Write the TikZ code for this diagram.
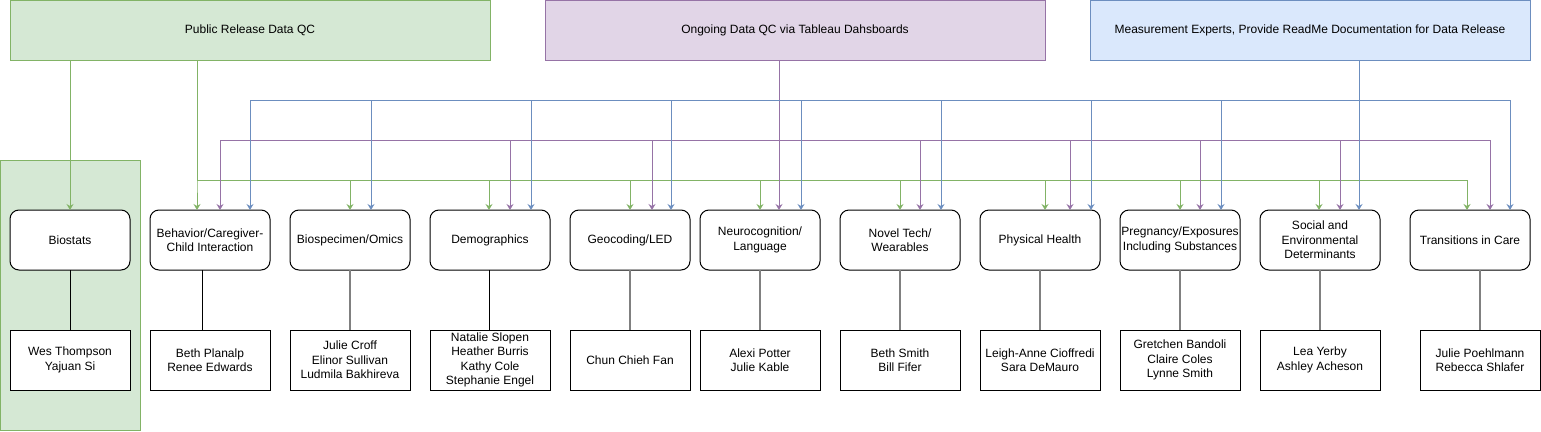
\documentclass[tikz,border=0pt]{standalone}
\usepackage{fontspec}
\setmainfont{Liberation Sans}
\usetikzlibrary{arrows.meta}
\definecolor{gfill}{HTML}{D5E8D4}
\definecolor{gline}{HTML}{82B366}
\definecolor{pfill}{HTML}{E1D5E7}
\definecolor{pline}{HTML}{9673A6}
\definecolor{bfill}{HTML}{DAE8FC}
\definecolor{bline}{HTML}{6C8EBF}
\definecolor{cgray}{HTML}{808080}
\tikzset{
  txt/.style={font=\fontsize{12}{14.4}\selectfont, align=center, inner sep=0pt, outer sep=0pt},
  topbox/.style={txt, draw, line width=1pt, minimum height=60pt},
  midbox/.style={txt, draw=black, fill=white, line width=1pt, rounded corners=9pt, minimum width=120pt, minimum height=60pt},
  lowbox/.style={txt, draw=black, fill=white, line width=1pt, minimum width=120pt, minimum height=60pt},
  tip/.style={-{Stealth[length=6pt,width=7pt,inset=2pt]}},
  gedge/.style={draw=gline, line width=1pt, tip},
  pedge/.style={draw=pline, line width=1pt, tip},
  bedge/.style={draw=bline, line width=1pt, tip},
  blink/.style={draw=black, line width=1pt},
  glink/.style={draw=cgray, line width=2pt},
}
\begin{document}
\begin{tikzpicture}[x=1pt,y=-1pt]
\useasboundingbox (0,0) rectangle (1541,431);
% background for biostats
\node[draw=gline, fill=gfill, line width=1pt, minimum width=140pt, minimum height=270pt, inner sep=0pt, outer sep=0pt] (bg) at (70,295) {};
% top boxes
\node[topbox, fill=gfill, draw=gline, minimum width=480pt] (pub) at (250,30) {Public Release Data QC};
\node[topbox, fill=pfill, draw=pline, minimum width=500pt] (ong) at (795,30) {Ongoing Data QC via Tableau Dahsboards};
\node[topbox, fill=bfill, draw=bline, minimum width=440pt] (mea) at (1310,30) {Measurement Experts, Provide ReadMe Documentation for Data Release};
% middle boxes
\node[midbox] (bios) at (70,240) {Biostats};
\node[midbox] (beh) at (210,240) {Behavior/Caregiver-\\Child Interaction};
\node[midbox] (bsp) at (350,240) {Biospecimen/Omics};
\node[midbox] (dem) at (490,240) {Demographics};
\node[midbox] (geo) at (630,240) {Geocoding/LED};
\node[midbox] (neu) at (760,240) {Neurocognition/\\Language};
\node[midbox] (nov) at (900,240) {Novel Tech/\\Wearables};
\node[midbox] (phy) at (1040,240) {Physical Health};
\node[midbox] (pre) at (1180,240) {Pregnancy/Exposures\\Including Substances};
\node[midbox] (soc) at (1320,240) {Social and\\Environmental\\Determinants};
\node[midbox] (tra) at (1470,240) {Transitions in Care};
% lower boxes
\node[lowbox] (l1) at (70,360) {Wes Thompson\\Yajuan Si};
\node[lowbox] (l2) at (210,360) {Beth Planalp\\Renee Edwards};
\node[lowbox] (l3) at (350,360) {Julie Croff\\Elinor Sullivan\\Ludmila Bakhireva};
\node[lowbox] (l4) at (490,360) {Natalie Slopen\\Heather Burris\\Kathy Cole\\Stephanie Engel};
\node[lowbox] (l5) at (630,360) {Chun Chieh Fan};
\node[lowbox] (l6) at (760,360) {Alexi Potter\\Julie Kable};
\node[lowbox] (l7) at (900,360) {Beth Smith\\Bill Fifer};
\node[lowbox] (l8) at (1040,360) {Leigh-Anne Cioffredi\\Sara DeMauro};
\node[lowbox] (l9) at (1180,360) {Gretchen Bandoli\\Claire Coles\\Lynne Smith};
\node[lowbox] (l10) at (1320,360) {Lea Yerby\\Ashley Acheson};
\node[lowbox] (l11) at (1480,360) {Julie Poehlmann\\Rebecca Shlafer};
% links middle -> lower
\draw[blink] (bios.south) -- (l1.north);
\draw[blink] (beh.south -| 202,0) -- (l2.north -| 202,0);
\draw[glink] (bsp.south) -- (l3.north);
\draw[blink] (dem.south -| 489,0) -- (l4.north -| 489,0);
\foreach \a/\b in {geo/l5,neu/l6,nov/l7,phy/l8,pre/l9,soc/l10}
  \draw[glink] (\a.south) -- (\b.north);
\draw[glink] (tra.south -| l11.north) -- (l11.north);
% green edges
\draw[gedge] (pub.south -| 70,0) -- (bios.north);
\foreach \x/\n in {197/beh,350/bsp,489/dem,630/geo,760/neu,900/nov,1045/phy,1180/pre,1319/soc,1467/tra}
  \draw[gedge] (pub.south -| 197,0) |- (\x,180) -- (\n.north -| \x,0);
% purple edges
\draw[pedge] (ong.south -| 779,0) -- (neu.north -| 779,0);
\foreach \x/\n in {220/beh,510/dem,652/geo,920/nov,1070/phy,1200/pre,1340/soc,1490/tra}
  \draw[pedge] (ong.south -| 779,0) |- (\x,140) -- (\n.north -| \x,0);
% blue edges
\draw[bedge] (mea.south -| 1359,0) -- (soc.north -| 1359,0);
\foreach \x/\n in {250/beh,371/bsp,531/dem,671/geo,801/neu,941/nov,1091/phy,1221/pre,1510/tra}
  \draw[bedge] (mea.south -| 1359,0) |- (\x,100) -- (\n.north -| \x,0);
\end{tikzpicture}
\end{document}
